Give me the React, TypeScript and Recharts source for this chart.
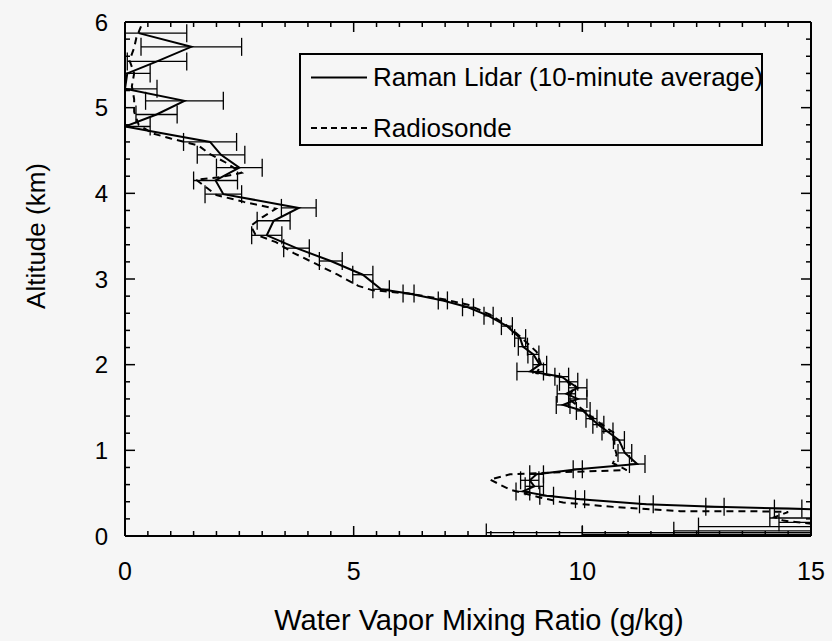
import React from 'react';
import { ScatterChart, Scatter, XAxis, YAxis, ErrorBar, Legend, Label } from 'recharts';

const FONT = '"Liberation Sans", Arial, Helvetica, sans-serif';
const BG = '#f6f6f6';

const W = 832;
const H = 641;
const MARGIN = { top: 21, right: 20, bottom: 5, left: 36 };
const Y_AXIS_W = 89;
const X_AXIS_H = 100;

// Raman lidar profile (10-minute average), top to bottom
const lidarAlt = [5.87, 5.71, 5.54, 5.4, 5.22, 5.08, 4.92, 4.78, 4.6, 4.45, 4.3, 4.15, 3.99, 3.83, 3.68, 3.51, 3.36, 3.21, 3.05, 2.88, 2.83, 2.75, 2.67, 2.57, 2.45, 2.31, 2.21, 2.12, 2.0, 1.92, 1.86, 1.8, 1.73, 1.66, 1.6, 1.53, 1.46, 1.37, 1.3, 1.22, 1.12, 0.97, 0.84, 0.78, 0.72, 0.65, 0.58, 0.52, 0.47, 0.43, 0.37, 0.34, 0.32, 0.27, 0.21, 0.16, 0.11, 0.06, 0.04, 0.02];
const lidarRatio = [0.3, 1.45, 0.7, 0.05, 0.0, 1.3, 0.69, 0.0, 1.86, 2.1, 2.5, 1.98, 2.15, 3.8, 3.25, 3.1, 3.75, 4.5, 5.2, 5.6, 6.2, 6.95, 7.5, 7.95, 8.35, 8.64, 8.7, 8.93, 9.07, 8.86, 9.55, 9.7, 9.9, 9.65, 9.9, 9.58, 10.02, 10.2, 10.35, 10.55, 10.8, 10.93, 11.2, 9.9, 9.0, 8.85, 8.95, 8.7, 9.22, 9.95, 11.4, 12.9, 14.5, 17.5, 16.2, 17.0, 17.5, 17.0, 17.5, 17.0];
const lidarErr = [1.05, 1.1, 0.65, 0.5, 0.7, 0.85, 0.45, 0.55, 0.58, 0.52, 0.5, 0.48, 0.4, 0.38, 0.36, 0.33, 0.28, 0.25, 0.22, 0.18, 0.12, 0.1, 0.12, 0.1, 0.12, 0.12, 0.1, 0.12, 0.15, 0.29, 0.15, 0.2, 0.2, 0.2, 0.2, 0.15, 0.15, 0.12, 0.12, 0.12, 0.12, 0.15, 0.17, 0.1, 0.15, 0.2, 0.2, 0.15, 0.15, 0.1, 0.15, 0.2, 0.3, 0.4, 2.1, 2.7, 4.96, 5.0, 9.6, 7.0];

// radiosonde profile
const sondeAlt = [5.95, 5.82, 5.7, 5.55, 5.4, 5.25, 5.1, 4.95, 4.8, 4.7, 4.64, 4.56, 4.46, 4.36, 4.24, 4.19, 4.16, 4.08, 3.98, 3.9, 3.82, 3.72, 3.62, 3.52, 3.43, 3.3, 3.17, 3.05, 2.92, 2.87, 2.83, 2.76, 2.7, 2.58, 2.44, 2.3, 2.15, 2.0, 1.9, 1.85, 1.72, 1.6, 1.48, 1.35, 1.2, 1.05, 0.95, 0.85, 0.77, 0.74, 0.72, 0.66, 0.54, 0.45, 0.39, 0.34, 0.29, 0.29, 0.28, 0.22, 0.18, 0.05];
const sondeRatio = [0.35, 0.25, 0.2, 0.1, 0.2, 0.15, 0.2, 0.2, 0.3, 0.6, 1.0, 1.6, 1.85, 2.2, 2.55, 2.1, 1.55, 1.75, 2.0, 2.6, 3.3, 3.0, 2.75, 2.85, 3.3, 3.7, 4.2, 4.65, 5.1, 5.4, 6.2, 7.0, 7.5, 8.0, 8.4, 8.7, 9.0, 9.1, 9.0, 9.6, 9.8, 9.7, 10.0, 10.3, 10.7, 10.7, 10.75, 10.67, 10.97, 9.3, 8.42, 7.98, 8.42, 9.07, 9.58, 10.67, 12.14, 13.6, 14.5, 14.2, 14.4, 16.5];

// tick positions (labels only on the major ones)
const xTicks = [0, 0.5, 1, 1.5, 2, 2.5, 3, 3.5, 4, 4.5, 5, 5.5, 6, 6.5, 7, 7.5, 8, 8.5, 9, 9.5, 10, 10.5, 11, 11.5, 12, 12.5, 13, 13.5, 14, 14.5, 15];
const xLabels = [0, 5, 10, 15];
const yTicks = [0, 0.2, 0.4, 0.6, 0.8, 1, 1.2, 1.4, 1.6, 1.8, 2, 2.2, 2.4, 2.6, 2.8, 3, 3.2, 3.4, 3.6, 3.8, 4, 4.2, 4.4, 4.6, 4.8, 5, 5.2, 5.4, 5.6, 5.8, 6];
const yLabels = [0, 1, 2, 3, 4, 5, 6];

const lidarData = lidarAlt.map((alt, i) => ({ ratio: lidarRatio[i], alt, err: lidarErr[i] }));
const sondeData = sondeAlt.map((alt, i) => ({ ratio: sondeRatio[i], alt }));

// plot area, derived from the chart margins and axis sizes
const plot = {
  x: MARGIN.left + Y_AXIS_W,
  y: MARGIN.top + 1,
  w: W - MARGIN.left - Y_AXIS_W - MARGIN.right - 1,
  h: H - MARGIN.top - 1 - MARGIN.bottom - X_AXIS_H,
};
const plotRight = plot.x + plot.w;
const plotBottom = plot.y + plot.h;

const frame = { stroke: '#000', strokeWidth: 2 };
const noDot = () => <g />;

// keep the profiles and their error bars inside the frame
const clipCss = `
.recharts-scatter, .recharts-scatter-line, .recharts-curve, .recharts-errorBars, .recharts-errorBar { clip-path: url(#plot-clip); }
`;

// x ticks drawn inward on bottom and top, label on the majors
const XTick = (props: any) => {
  const { x, y, payload } = props;
  const major = xLabels.includes(payload.value);
  const len = major ? 10 : 5;
  return (
    <g>
      <line x1={x} x2={x} y1={plotBottom} y2={plotBottom - len} stroke="#000" strokeWidth={1.5} />
      <line x1={x} x2={x} y1={plot.y} y2={plot.y + len} stroke="#000" strokeWidth={1.5} />
      {major && (
        <text x={x} y={y} dy="0.71em" textAnchor="middle" fontSize={25} fontFamily={FONT} fill="#000">
          {payload.value}
        </text>
      )}
    </g>
  );
};

// y ticks drawn inward on left and right, label on the majors
const YTick = (props: any) => {
  const { x, y, payload } = props;
  const major = yLabels.includes(payload.value);
  const len = major ? 10 : 5;
  return (
    <g>
      <line x1={plot.x} x2={plot.x + len} y1={y} y2={y} stroke="#000" strokeWidth={1.5} />
      <line x1={plotRight - len} x2={plotRight} y1={y} y2={y} stroke="#000" strokeWidth={1.5} />
      {major && (
        <text x={x} y={y} dy="0.355em" textAnchor="end" fontSize={24} fontFamily={FONT} fill="#000">
          {payload.value}
        </text>
      )}
    </g>
  );
};

const LegendBox = () => (
  <svg width={464} height={93} style={{ display: 'block' }}>
    <rect x={1} y={1} width={462} height={91} fill={BG} stroke="#000" strokeWidth={2} />
    <line x1={12} x2={68} y1={24.5} y2={24.5} stroke="#000" strokeWidth={2} />
    <text x={74} y={33} fontSize={26} fontFamily={FONT} fill="#000">Raman Lidar (10-minute average)</text>
    <line x1={12} x2={69} y1={75} y2={75} stroke="#000" strokeWidth={2} strokeDasharray="6 4" />
    <text x={74} y={84} fontSize={26} fontFamily={FONT} fill="#000">Radiosonde</text>
  </svg>
);

export default function App() {
  return (
    <div style={{ position: 'absolute', left: 0, top: 0, width: W, height: H, background: BG }}>
      <style>{clipCss}</style>
      <svg width={0} height={0} style={{ position: 'absolute' }}>
        <defs>
          <clipPath id="plot-clip" clipPathUnits="userSpaceOnUse">
            <rect x={plot.x} y={plot.y} width={plot.w} height={plot.h} />
          </clipPath>
        </defs>
      </svg>
      <ScatterChart width={W} height={H} margin={MARGIN}>
        <XAxis xAxisId="x" type="number" dataKey="ratio" domain={[0, 15]} ticks={xTicks} interval={0}
          allowDataOverflow height={X_AXIS_H} tickSize={0} tickMargin={26}
          axisLine={frame} tickLine={false} tick={XTick}>
          <Label value="Water Vapor Mixing Ratio (g/kg)" position="insideBottom" offset={6} dx={11}
            fontSize={29} fill="#000" fontFamily={FONT} />
        </XAxis>
        <XAxis xAxisId="xt" orientation="top" type="number" domain={[0, 15]} allowDataOverflow height={1}
          tick={false} tickLine={false} axisLine={frame} />

        <YAxis yAxisId="y" type="number" dataKey="alt" domain={[0, 6]} ticks={yTicks} interval={0}
          allowDataOverflow width={Y_AXIS_W} tickSize={0} tickMargin={17}
          axisLine={frame} tickLine={false} tick={YTick}>
          <Label value="Altitude (km)" angle={-90} position="insideLeft" offset={0} dy={-43}
            fontSize={26} fill="#000" fontFamily={FONT} style={{ textAnchor: 'middle' }} />
        </YAxis>
        <YAxis yAxisId="yr" orientation="right" type="number" domain={[0, 6]} allowDataOverflow width={1}
          tick={false} tickLine={false} axisLine={frame} />

        <Scatter name="Radiosonde" data={sondeData} xAxisId="x" yAxisId="y" fill="#000"
          shape={noDot} line={{ stroke: '#000', strokeWidth: 2, strokeDasharray: '7 5' }} lineType="joint"
          isAnimationActive={false} />
        <Scatter name="Raman Lidar (10-minute average)" data={lidarData} xAxisId="x" yAxisId="y"
          fill="#000" shape={noDot} line={{ stroke: '#000', strokeWidth: 2 }} lineType="joint"
          isAnimationActive={false}>
          <ErrorBar dataKey="err" direction="x" width={9} stroke="#000" strokeWidth={1.3} />
        </Scatter>

        <Legend layout="horizontal" verticalAlign="middle" align="center" content={() => <LegendBox />}
          wrapperStyle={{ left: 299, top: 53, width: 464, height: 93 }} />
      </ScatterChart>
    </div>
  );
}
